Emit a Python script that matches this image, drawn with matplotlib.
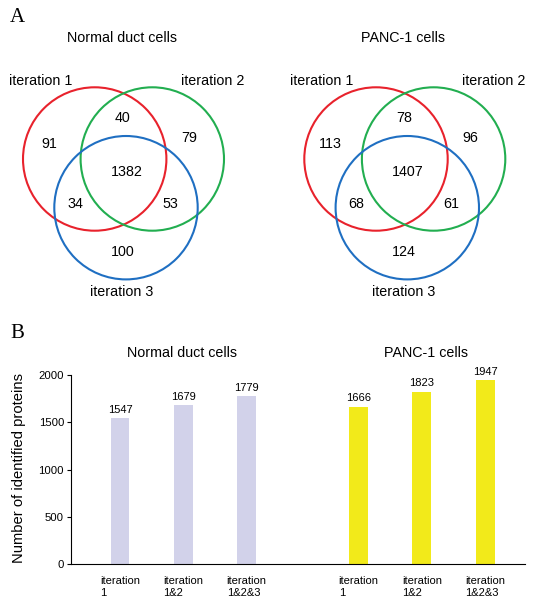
import matplotlib.pyplot as plt
from matplotlib.patches import Circle

plt.rcParams['font.family'] = ['Liberation Sans', 'DejaVu Sans']

# Venn counts: (only1, 1&2, only2, 1&2&3, 1&3, 2&3, only3)
normal_venn = [91, 40, 79, 1382, 34, 53, 100]
panc_venn = [113, 78, 96, 1407, 68, 61, 124]
set_names = ['iteration 1', 'iteration 2', 'iteration 3']
panel_titles = ['Normal duct cells', 'PANC-1 cells']

# bar data
bar_labels = ['iteration\n1', 'iteration\n1&2', 'iteration\n1&2&3']
normal_counts = [1547, 1679, 1779]
panc_counts = [1666, 1823, 1947]

W, H = 535, 606
fig = plt.figure(figsize=(W / 100, H / 100), dpi=100)

# panel A drawn in pixel coordinates
ax = fig.add_axes([0, 0, 1, 1])
ax.set_xlim(0, W)
ax.set_ylim(H, 0)
ax.axis('off')

ax.text(10, 18, 'A', fontsize=15, family='Liberation Serif', va='center', ha='left')
ax.text(10, 333, 'B', fontsize=15, family='Liberation Serif', va='center', ha='left')

r = 71.7
colors = ['#e8222c', '#22ae50', '#1f6fc2']

def venn(x0, counts, title):
    centers = [(x0, 159), (x0 + 57.6, 159), (x0 + 31.3, 207.7)]
    for (cx, cy), c in zip(centers, colors):
        ax.add_patch(Circle((cx, cy), r, fill=False, ec=c, lw=1.5))
    ax.text(x0 + 27, 38.3, title, fontsize=10.3, ha='center', va='center')
    ax.text(x0 - 54.4, 81, set_names[0], fontsize=10.3, ha='center', va='center')
    ax.text(x0 + 117.8, 81, set_names[1], fontsize=10.3, ha='center', va='center')
    ax.text(x0 + 27.3, 291.7, set_names[2], fontsize=10.3, ha='center', va='center')
    offs = [(-45.4, 144.3), (28, 118.3), (94.6, 138.3), (32, 171.7),
            (-19.7, 204), (75.3, 204), (28, 251.7)]
    for (dx, y), v in zip(offs, counts):
        ax.text(x0 + dx, y, str(v), fontsize=10.3, ha='center', va='center')

venn(94.7, normal_venn, panel_titles[0])
venn(376, panc_venn, panel_titles[1])

# panel B bar chart
ymax = 2030
x_left, x_right = 71, 525
y_bot, y_top = 564, 564 - 189 * ymax / 2000
bx = fig.add_axes([x_left / W, 1 - y_bot / H, (x_right - x_left) / W, (y_bot - y_top) / H])
scale = 63.3
pos_n = [0, 1, 2]
pos_p = [3.77, 4.77, 5.77]
bx.bar(pos_n, normal_counts, width=0.3, color='#d2d2ea')
bx.bar(pos_p, panc_counts, width=0.3, color='#f2ea1a')
for p, v in zip(pos_n + pos_p, normal_counts + panc_counts):
    bx.text(p, v + 35, str(v), ha='center', va='bottom', fontsize=8)
bx.set_xlim((x_left - 120) / scale, (x_right - 120) / scale)
bx.set_ylim(0, ymax)
bx.set_yticks([0, 500, 1000, 1500, 2000])
bx.set_xticks(pos_n + pos_p)
bx.set_xticklabels(bar_labels * 2, fontsize=8, multialignment='left')
bx.tick_params(axis='x', length=0, pad=9)
bx.tick_params(axis='y', labelsize=8.2, length=3, width=0.8, pad=2)
for s in ['top', 'right']:
    bx.spines[s].set_visible(False)
bx.spines['left'].set_linewidth(0.8)
bx.spines['bottom'].set_linewidth(0.8)
bx.spines['left'].set_bounds(0, 2000)
bx.set_ylabel('Number of identified proteins', fontsize=10.6, labelpad=9)

ax.text(181.7, 353, panel_titles[0], fontsize=10.3, ha='center', va='center')
ax.text(426, 353, panel_titles[1], fontsize=10.3, ha='center', va='center')

fig.savefig('out.png', dpi=100)
